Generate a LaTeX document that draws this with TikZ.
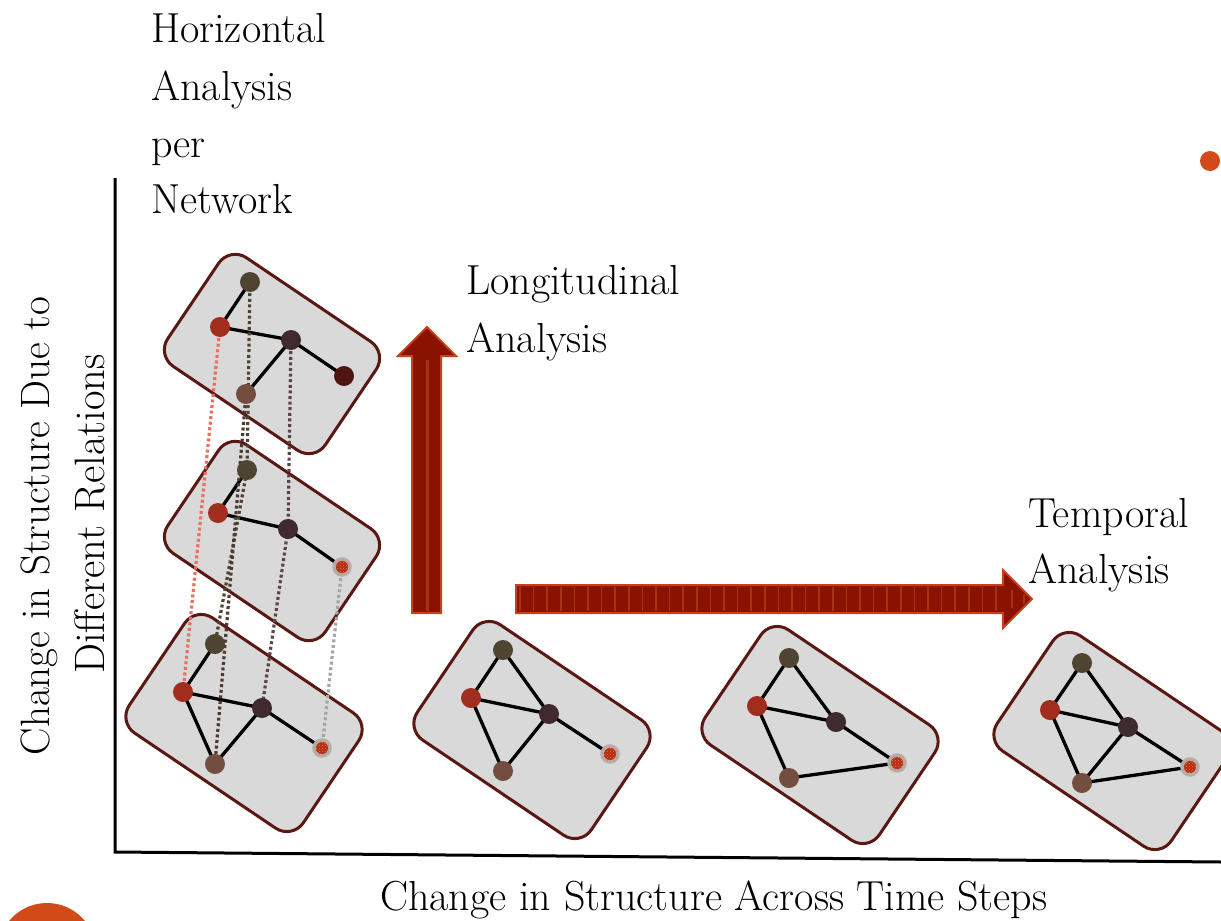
\documentclass[tikz,border=0pt]{standalone}
\usepackage{fontspec}
\usetikzlibrary{patterns}

\definecolor{cardfill}{HTML}{D9D9D9}
\definecolor{cardedge}{HTML}{5A1812}
\definecolor{ntop}{HTML}{4F4431}
\definecolor{nred}{HTML}{A02D1E}
\definecolor{ndark}{HTML}{3F2A2D}
\definecolor{nbrown}{HTML}{734E40}
\definecolor{nfar}{HTML}{4E1511}
\definecolor{nhot}{HTML}{B52A15}
\definecolor{nhotdot}{HTML}{E58A3A}
\definecolor{halo}{HTML}{B5ADAD}
\definecolor{lsalmon}{HTML}{E8705F}
\definecolor{lbrown}{HTML}{4D3A33}
\definecolor{lplum}{HTML}{5E4448}
\definecolor{lgray}{HTML}{A8A4A4}
\definecolor{arrfill}{HTML}{8A1200}
\definecolor{arredge}{HTML}{C4441A}
\definecolor{arrstripe}{HTML}{A3340E}
\definecolor{accent}{HTML}{D24A17}

\pgfdeclarelayer{cards}
\pgfdeclarelayer{links}
\pgfsetlayers{cards,links,main}

\begin{document}
\begin{tikzpicture}[x=1pt,y=-1pt,
  card/.style={draw=cardedge, line width=3pt, fill=cardfill, rounded corners=20pt,
               rotate=-34, inner sep=0pt},
  bigcard/.style={card, minimum width=210pt, minimum height=139pt},
  smallcard/.style={card, minimum width=190pt, minimum height=131pt},
  vx/.style={circle, minimum size=20pt, inner sep=0pt, fill=#1},
  hot/.style={circle, minimum size=16pt, inner sep=0pt, fill=nhot, draw=halo,
              line width=3.5pt, postaction={pattern=crosshatch dots, pattern color=nhotdot}},
  tie/.style={line width=3.3pt, black},
  link/.style={line width=3.2pt, dash pattern=on 3pt off 2.6pt, draw=#1},
  lbl/.style={font=\fontsize{42}{57}\selectfont, inner sep=0pt, anchor=base west},
  blockarrow/.style={fill=arrfill, draw=arredge, line width=2pt, line join=miter},
]
\useasboundingbox (0,0) rectangle (1221,921);

% decorative dots
\fill[accent] (1210,161) circle (10);
\fill[accent] (47,952) circle (49);

% axes
\coordinate (ytop) at (115,178);
\coordinate (origin) at (115,852);
\coordinate (xend) at (1221,862);
\draw[line width=3pt] (ytop) -- (origin) -- (xend);

% ---- network 1 (top of the stack)
\node[vx=ntop]   (c1t) at (250,282) {};
\node[vx=nred]   (c1r) at (220,327) {};
\node[vx=ndark]  (c1d) at (291,340) {};
\node[vx=nbrown] (c1b) at (246,394) {};
\node[vx=nfar]   (c1f) at (344,376) {};
% ---- network 2
\node[vx=ntop]   (c2t) at (247,470) {};
\node[vx=nred]   (c2r) at (218,513) {};
\node[vx=ndark]  (c2d) at (288,529) {};
\node[hot]       (c2f) at (342,567) {};
% ---- network 3
\node[vx=ntop]   (c3t) at (215,644) {};
\node[vx=nred]   (c3r) at (183,692) {};
\node[vx=ndark]  (c3d) at (262,708) {};
\node[vx=nbrown] (c3b) at (215,764) {};
\node[hot]       (c3f) at (322,748) {};
% ---- network 4
\node[vx=ntop]   (c4t) at (503,650) {};
\node[vx=nred]   (c4r) at (471,698) {};
\node[vx=ndark]  (c4d) at (549,714) {};
\node[vx=nbrown] (c4b) at (503,771) {};
\node[hot]       (c4f) at (610,754) {};
% ---- network 5
\node[vx=ntop]   (c5t) at (789,658) {};
\node[vx=nred]   (c5r) at (757,706) {};
\node[vx=ndark]  (c5d) at (836,722) {};
\node[vx=nbrown] (c5b) at (789,778) {};
\node[hot]       (c5f) at (897,763) {};
% ---- network 6
\node[vx=ntop]   (c6t) at (1082,663) {};
\node[vx=nred]   (c6r) at (1050,710) {};
\node[vx=ndark]  (c6d) at (1128,727) {};
\node[vx=nbrown] (c6b) at (1082,783) {};
\node[hot]       (c6f) at (1190,767) {};

\begin{pgfonlayer}{cards}
  \node[smallcard] (card1) at (272,354) {};
  \node[smallcard] (card2) at (272,541) {};
  \node[bigcard]   (card3) at (244,723) {};
  \node[bigcard]   (card4) at (532,730) {};
  \node[bigcard]   (card5) at (820,735) {};
  \node[bigcard]   (card6) at (1112,741) {};
\end{pgfonlayer}

\begin{pgfonlayer}{links}
  % ties inside each network
  \draw[tie] (c1t.center) -- (c1r.center) -- (c1d.center) -- (c1b.center);
  \draw[tie] (c1d.center) -- (c1f.center);
  \draw[tie] (c2t.center) -- (c2r.center) -- (c2d.center) -- (c2f.center);
  \draw[tie] (c3t.center) -- (c3r.center) -- (c3d.center) -- (c3f.center);
  \draw[tie] (c3r.center) -- (c3b.center) -- (c3d.center);
  \draw[tie] (c4t.center) -- (c4r.center) -- (c4d.center) -- (c4f.center);
  \draw[tie] (c4r.center) -- (c4b.center) -- (c4d.center) -- (c4t.center);
  \draw[tie] (c5t.center) -- (c5r.center) -- (c5d.center) -- (c5f.center) -- (c5b.center) -- (c5r.center);
  \draw[tie] (c5t.center) -- (c5d.center);
  \draw[tie] (c6t.center) -- (c6r.center) -- (c6d.center) -- (c6f.center) -- (c6b.center) -- (c6r.center);
  \draw[tie] (c6t.center) -- (c6d.center) -- (c6b.center);
  % the same actors traced across relations
  \draw[link=lsalmon] (c1r.center) -- (c3r.center);
  \draw[link=ntop]    (c1t.center) -- (c2t.center) -- (c3t.center);
  \draw[link=lbrown]  (c1b.center) -- (c3b.center);
  \draw[link=lplum]   (c1d.center) -- (c2d.center) -- (c3d.center);
  \draw[link=lgray]   (c2f.center) -- (c3f.center);
\end{pgfonlayer}

% longitudinal block arrow
\draw[blockarrow] (412,613) -- (412,356) -- (398,356) -- (427,327) -- (456,356)
  -- (441,356) -- (441,613) -- cycle;
\draw[arrstripe, line width=3pt] (427,360) -- (427,611);

% temporal block arrow
\draw[blockarrow] (516,585) -- (1003,585) -- (1003,570) -- (1032,599) -- (1003,628)
  -- (1003,613) -- (516,613) -- cycle;
\foreach \i in {0,...,35}
  \draw[arrstripe, line width=1.6pt] ({520+13.6*\i},587) -- ({520+13.6*\i},611);
\draw[arrstripe, line width=1.6pt] (1012,590) -- (1012,608);
\draw[arrstripe, line width=1.6pt] (1024,594) -- (1024,604);

% labels
\node[lbl] (h1) at (151,42)  {Horizontal};
\node[lbl] (h2) at (151,100) {Analysis};
\node[lbl] (h3) at (151,157) {per};
\node[lbl] (h4) at (151,213) {Network};
\node[lbl] (l1) at (466,294) {Longitudinal};
\node[lbl] (l2) at (466,352) {Analysis};
\node[lbl] (t1) at (1028,527) {Temporal};
\node[lbl] (t2) at (1028,583) {Analysis};
\node[lbl] (xlab) at (380,910) {Change in Structure Across Time Steps};
\node[lbl, anchor=base, rotate=90, font=\fontsize{41}{57}\selectfont] (y1) at (49,526)
  {Change in Structure Due to};
\node[lbl, anchor=base, rotate=90, font=\fontsize{42.5}{57}\selectfont] (y2) at (104,514)
  {Different Relations};
\end{tikzpicture}
\end{document}
